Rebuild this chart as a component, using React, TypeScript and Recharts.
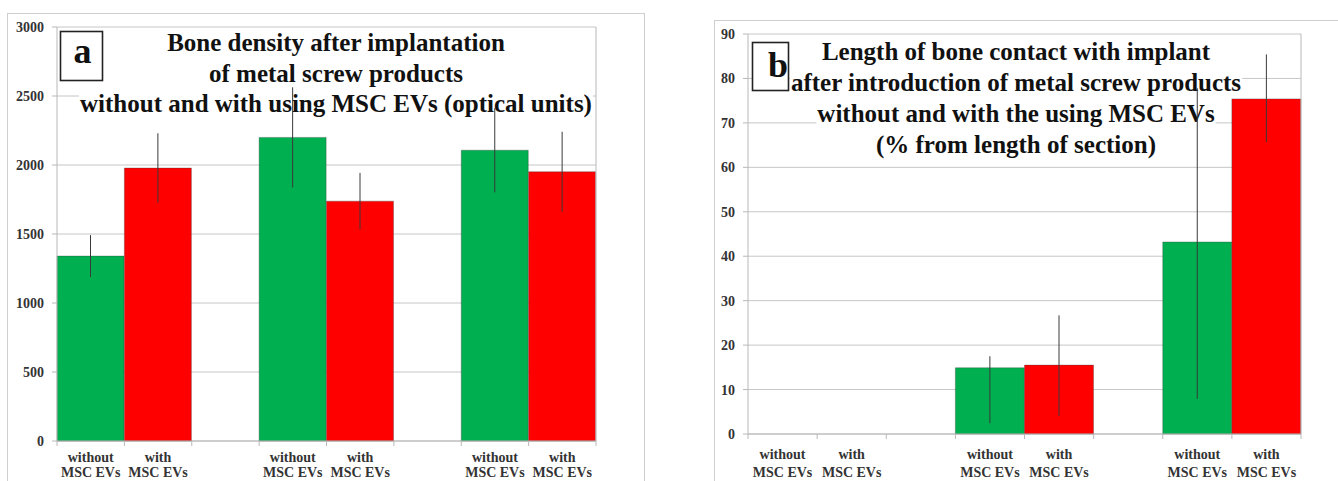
import React from 'react';
import { Bar, BarChart, CartesianGrid, Cell, ErrorBar, XAxis, YAxis } from 'recharts';

// eight slots per panel: without / with / gap, repeated
const slotLabels = [
  'without\nMSC EVs', 'with\nMSC EVs', '',
  'without\nMSC EVs', 'with\nMSC EVs', '',
  'without\nMSC EVs', 'with\nMSC EVs',
];
const slotKinds = ['without', 'with', 'gap', 'without', 'with', 'gap', 'without', 'with'];

const densityValues = [1340, 1978, null, 2200, 1738, null, 2107, 1951];
const densityErrors = [152, 252, null, 363, 205, null, 305, 290];
const densityTicks = [0, 500, 1000, 1500, 2000, 2500, 3000];

const contactValues = [0, 0, null, 14.9, 15.5, null, 43.2, 75.4];
const contactErrLow = [0, 0, null, 12.5, 11.4, null, 35.3, 9.7];
const contactErrHigh = [0, 0, null, 2.6, 11.2, null, 34.6, 10.0];
const contactTicks = [0, 10, 20, 30, 40, 50, 60, 70, 80, 90];

const titleA = [
  'Bone density after implantation',
  'of metal screw products',
  'without and with using MSC EVs (optical units)',
];
const titleB = [
  'Length of bone contact with implant',
  'after introduction of metal screw products',
  'without and with the using MSC EVs',
  '(% from length of section)',
];

const GREEN = '#00b050';
const RED = '#ff0000';
const GRID = '#c6c6c6';
const AXIS = '#b8b8b8';
const SERIF = 'Liberation Serif';
const TICK_STYLE = { fontSize: 14, fontWeight: 700, fill: '#333', fontFamily: SERIF };
const TITLE_SIZE = 25;

let measureCtx: CanvasRenderingContext2D | null = null;
function measure(s: string) {
  if (!measureCtx) measureCtx = document.createElement('canvas').getContext('2d');
  if (!measureCtx) return s.length * TITLE_SIZE * 0.5;
  measureCtx.font = `bold ${TITLE_SIZE}px "${SERIF}"`;
  return measureCtx.measureText(s).width;
}

function SlotTick(props: any) {
  const { x, y, payload, band, d1, d2 } = props;
  const i = Number(payload.value);
  const [l1, l2] = (slotLabels[i] || '').split('\n');
  return (
    <g>
      <line x1={x - band / 2} x2={x - band / 2} y1={y} y2={y + 5} stroke={AXIS} />
      {i === slotLabels.length - 1 && (
        <line x1={x + band / 2} x2={x + band / 2} y1={y} y2={y + 5} stroke={AXIS} />
      )}
      {l1 && (
        <text x={x} y={y + d1} textAnchor="middle" fontFamily={SERIF} fontSize={14} fontWeight={700} fill="#333">
          {l1}
        </text>
      )}
      {l2 && (
        <text x={x} y={y + d2} textAnchor="middle" fontFamily={SERIF} fontSize={14} fontWeight={700} fill="#333">
          {l2}
        </text>
      )}
    </g>
  );
}

// title lines with a white band behind each line, drawn above the grid
function TitleLayer({ lines, cx, first, step }: { lines: string[]; cx: number; first: number; step: number }) {
  return (
    <g>
      {lines.map((l, i) => {
        const w = measure(l);
        const base = first + i * step;
        return (
          <g key={l}>
            <rect x={cx - w / 2 - 1} y={base - 22.3} width={w + 2} height={27.7} fill="#fff" />
            <text x={cx} y={base} textAnchor="middle" fontFamily={SERIF} fontWeight={700} fontSize={TITLE_SIZE} fill="#111">
              {l}
            </text>
          </g>
        );
      })}
    </g>
  );
}

interface PanelProps {
  left: number;
  width: number;
  top: number;
  axisH: number;
  leftW: number;
  rightW: number;
  rows: any[];
  ticks: number[];
  title: React.ReactNode;
  labelDy: [number, number];
}

function Panel({ left, width, top, axisH, leftW, rightW, rows, ticks, title, labelDy }: PanelProps) {
  const height = 481;
  const band = (width - leftW - rightW) / rows.length;
  const domain = [ticks[0], ticks[ticks.length - 1]];
  return (
    <div style={{ position: 'absolute', left, top: 0 }}>
      <BarChart
        width={width}
        height={height}
        data={rows}
        margin={{ top, right: 0, bottom: 0, left: 0 }}
        barCategoryGap={0}
        barGap={0}
      >
        <CartesianGrid vertical={false} stroke={GRID} />
        <XAxis
          dataKey="slot"
          interval={0}
          height={axisH}
          tickLine={false}
          tickSize={0}
          tickMargin={0}
          axisLine={{ stroke: AXIS }}
          tick={<SlotTick band={band} d1={labelDy[0]} d2={labelDy[1]} />}
        />
        <YAxis
          width={leftW}
          domain={domain}
          ticks={ticks}
          interval={0}
          tickSize={5}
          tickMargin={8}
          tickLine={{ stroke: AXIS }}
          axisLine={{ stroke: AXIS }}
          tick={TICK_STYLE}
        />
        <YAxis
          yAxisId="r"
          orientation="right"
          width={rightW}
          domain={domain}
          ticks={ticks}
          interval={0}
          tickSize={5}
          tickMargin={8}
          tickLine={{ stroke: AXIS }}
          axisLine={{ stroke: AXIS }}
          tick={{ ...TICK_STYLE, textAnchor: 'start' }}
        />
        {title}
        <Bar dataKey="value" isAnimationActive={false} stroke="#404040" strokeWidth={0.5} strokeOpacity={0.7}>
          {rows.map((r, i) => (
            <Cell key={i} fill={r.kind === 'without' ? GREEN : RED} />
          ))}
          <ErrorBar dataKey="err" width={0} stroke="#3a3a3a" strokeWidth={1} isAnimationActive={false} />
        </Bar>
      </BarChart>
    </div>
  );
}

export default function App() {
  const densityRows = slotKinds.map((kind, i) => ({
    slot: i,
    kind,
    value: densityValues[i],
    err: densityErrors[i],
  }));
  const contactRows = slotKinds.map((kind, i) => ({
    slot: i,
    kind,
    value: contactValues[i],
    err: contactErrLow[i] == null ? null : [contactErrLow[i], contactErrHigh[i]],
  }));

  return (
    <div style={{ position: 'absolute', left: 0, top: 0, width: 1338, height: 481, overflow: 'hidden', background: '#fff' }}>
      <div style={{ position: 'absolute', left: 7, top: 13, width: 636, height: 480, border: '1px solid #cfcfcf' }} />
      <div style={{ position: 'absolute', left: 714, top: 20, width: 640, height: 480, border: '1px solid #cfcfcf' }} />

      <Panel
        left={0}
        width={645}
        top={27}
        axisH={40}
        leftW={57}
        rightW={49}
        rows={densityRows}
        ticks={densityTicks}
        labelDy={[21, 35.5]}
        title={<TitleLayer lines={titleA} cx={336} first={51} step={30.5} />}
      />
      <Panel
        left={680}
        width={658}
        top={34}
        axisH={47}
        leftW={68}
        rightW={37}
        rows={contactRows}
        ticks={contactTicks}
        labelDy={[25, 42.5]}
        title={<TitleLayer lines={titleB} cx={1016 - 680} first={60} step={31} />}
      />

      <svg width={1338} height={481} style={{ position: 'absolute', left: 0, top: 0, pointerEvents: 'none' }}>
        <rect x={60.5} y={31.5} width={42} height={49} fill="#fff" stroke="#222" strokeWidth={1.6} />
        <text x={82.5} y={63} textAnchor="middle" fontFamily={SERIF} fontWeight={700} fontSize={36} fill="#111">
          a
        </text>
        <rect x={752.5} y={42.5} width={36} height={48} fill="#fff" stroke="#222" strokeWidth={1.6} />
        <text x={778} y={77} textAnchor="middle" fontFamily={SERIF} fontWeight={700} fontSize={36} fill="#111">
          b
        </text>
      </svg>
    </div>
  );
}
